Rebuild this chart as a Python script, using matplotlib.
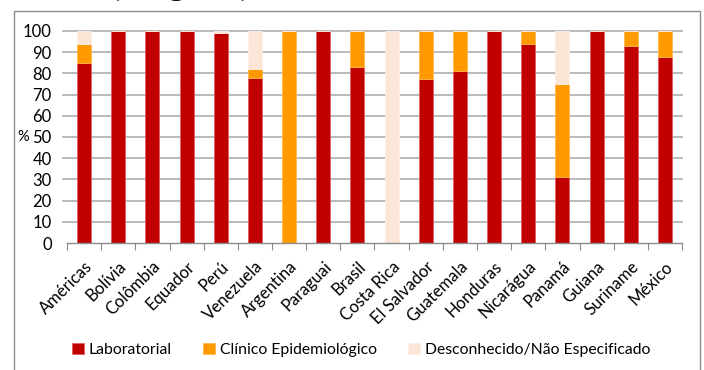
import matplotlib
matplotlib.use("Agg")
import matplotlib.pyplot as plt
from matplotlib.patches import Rectangle
import numpy as np

plt.rcParams['font.family'] = ['Lato', 'DejaVu Sans']

categories = ["Américas", "Bolívia", "Colômbia", "Equador", "Perú", "Venezuela",
              "Argentina", "Paraguai", "Brasil", "Costa Rica", "El Salvador",
              "Guatemala", "Honduras", "Nicarágua", "Panamá", "Guiana",
              "Suriname", "México"]
laboratorial = [85, 100, 100, 100, 99, 78, 0, 100, 83, 0, 77.5, 81, 100, 94, 31, 100, 93, 87.5]
clinico = [9, 0, 0, 0, 0, 4, 100, 0, 17, 0, 22.5, 19, 0, 6, 44, 0, 7, 12.5]
desconhecido = [6, 0, 0, 0, 1, 18, 0, 0, 0, 100, 0, 0, 0, 0, 25, 0, 0, 0]
series_names = ["Laboratorial", "Clínico Epidemiológico", "Desconhecido/Não Especificado"]
yticks = list(range(0, 101, 10))

colors = ["#C00000", "#FF9900", "#FBE5D6"]
edges = ["#E06060", "#FFB84D", "#FDEFE6"]

fig = plt.figure(figsize=(7.04, 3.70), dpi=100)
# outer chart border
fig.patches.append(Rectangle((14/704, -0.05), (700-14)/704, 1.05 - 11/370,
                             transform=fig.transFigure, fill=False,
                             edgecolor="#8C8C8C", linewidth=1.0))
fig.text(181/704, 1 + 5.5/370, "(Região)", fontsize=28, fontweight='bold',
         ha='center', va='baseline', color='black')

ax = fig.add_axes([67/704, 1 - 243/370, (682-67)/704, (243-31)/370])
x = np.arange(len(categories))
w = 0.41
bottom = np.zeros(len(categories))
for vals, c, ec, name in zip([laboratorial, clinico, desconhecido], colors, edges, series_names):
    ax.bar(x, vals, w, bottom=bottom, color=c, edgecolor=ec, linewidth=0.6,
           label=name, zorder=3)
    bottom += np.array(vals)

ax.set_xlim(-0.5, len(categories) - 0.5)
ax.set_ylim(0, 100)
ax.set_yticks(yticks)
ax.set_yticklabels([str(t) for t in yticks], fontsize=12)
ax.tick_params(axis='y', length=0, pad=11)
for t in yticks[1:]:
    ax.axhline(t, color="#B4B4B4", linewidth=1.3, zorder=1, xmin=-0.006, clip_on=False)
ax.set_xticks(np.arange(-0.5, len(categories)), minor=False)
ax.set_xticklabels([])
ax.set_xticks(x, minor=True)
ax.set_xticklabels(categories, minor=True, rotation=45, ha='right',
                   rotation_mode='anchor', fontsize=12)
ax.tick_params(axis='x', which='major', length=5, color="#8C8C8C", direction='out')
ax.tick_params(axis='x', which='minor', length=0, pad=11)
for s in ['top', 'right', 'left']:
    ax.spines[s].set_visible(False)
ax.spines['bottom'].set_color("#8C8C8C")
ax.spines['bottom'].set_linewidth(1.0)
ax.spines['bottom'].set_zorder(4)

ax.text((23 - 67) / 615, 50, "%", transform=ax.get_yaxis_transform(), fontsize=10.5,
        ha='center', va='center')

handles, labels = ax.get_legend_handles_labels()
fig.legend(handles, labels, loc='center', bbox_to_anchor=(0.513, 1 - 350/370),
           ncol=3, frameon=False, fontsize=11.3, handlelength=0.75, handleheight=0.75,
           handletextpad=0.3, columnspacing=2.0)

fig.savefig("out.png", dpi=100)
